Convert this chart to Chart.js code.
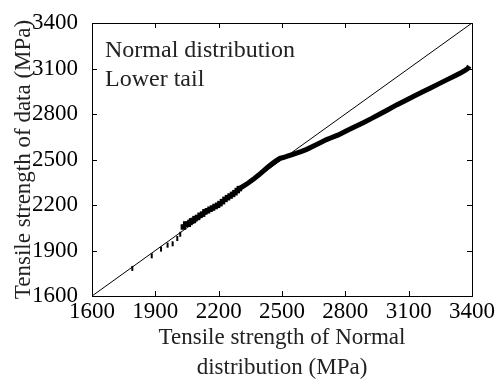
<!DOCTYPE html>
<html>
<head>
<meta charset="utf-8">
<script src="https://cdn.jsdelivr.net/npm/chart.js@4"></script>
<style>
html,body{margin:0;padding:0;background:#fff}
#wrap{width:500px;height:383px}
</style>
</head>
<body>
<div id="wrap"><canvas id="qqchart"></canvas></div>
<script>
// tick values shared by both axes
var axisTicks = [1600,1900,2200,2500,2800,3100,3400];
var refLine = [1600,3400];

// sparse lower-tail points
var tailX = [1791,1883,1927,1958,1982,2004,2018];
var tailY = [1782,1865,1909,1935,1944,1979,2007];

// middle part (thin)
var midX = [2033,2044,2056,2064,2072,2080,2088,2100,2112,2124,2135,2147,2159,2171,2183,2195,2206,2218,2230,2242,2254,2266,2277,2288,2298];
var midY = [2055,2075,2073,2085,2095,2098,2110,2118,2132,2140,2155,2162,2172,2180,2190,2198,2209,2222,2237,2248,2259,2270,2281,2295,2308];

// upper part (dense, thick)
var upperX = [2298,2317,2340,2364,2388,2411,2435,2459,2475,2490,2506,2522,2545,2569,2593,2617,2640,2664,2688,2711,2727,2767,2806,2845,2885,2925,2964,3004,3043,3083,3122,3162,3201,3240,3280,3320,3343,3367,3380,3387];
var upperY = [2308,2325,2345,2369,2396,2424,2452,2478,2495,2508,2513,2520,2531,2542,2554,2567,2583,2599,2615,2631,2640,2662,2690,2716,2743,2771,2800,2830,2860,2888,2916,2943,2970,2997,3025,3052,3068,3088,3100,3115];

function pts(xs, ys){
    var out = [];
    for (var i = 0; i < xs.length; i++) out.push({x: xs[i], y: ys[i]});
    return out;
}

var framePlugin = {
    id: 'frame',
    afterDraw: function(chart){
        var ctx = chart.ctx, a = chart.chartArea;
        var xs = chart.scales.x, ys = chart.scales.y;
        ctx.save();
        ctx.strokeStyle = '#000';
        ctx.lineWidth = 1;
        ctx.strokeRect(a.left + 0.5, a.top + 0.5, a.right - a.left, a.bottom - a.top);
        ctx.beginPath();
        axisTicks.forEach(function(v){
            var px = Math.round(xs.getPixelForValue(v)) + 0.5;
            ctx.moveTo(px, a.bottom); ctx.lineTo(px, a.bottom - 5);
            ctx.moveTo(px, a.top); ctx.lineTo(px, a.top + 5);
            var py = Math.round(ys.getPixelForValue(v)) + 0.5;
            ctx.moveTo(a.left, py); ctx.lineTo(a.left + 5, py);
            ctx.moveTo(a.right, py); ctx.lineTo(a.right - 5, py);
        });
        ctx.stroke();
        ctx.fillStyle = '#222';
        ctx.font = '24px "Liberation Serif"';
        ctx.textBaseline = 'middle';
        ctx.fillText('Normal distribution', a.left + 13, a.top + 28);
        ctx.fillText('Lower tail', a.left + 13, a.top + 57);
        ctx.restore();
    }
};

var tickFont = {family: '"Liberation Serif"', size: 23};
var titleFont = {family: '"Liberation Serif"', size: 23, lineHeight: 1.3};
function plainLabel(v){ return String(v); }

var options = {};
options.type = 'scatter';
options.data = {
    datasets: [
        {
            label: 'reference',
            data: pts(refLine, refLine),
            showLine: true,
            borderColor: '#000',
            borderWidth: 1,
            pointRadius: 0
        },
        {
            label: 'tail',
            data: pts(tailX, tailY),
            pointStyle: 'line',
            rotation: 90,
            pointRadius: 2.5,
            borderColor: '#000',
            borderWidth: 2
        },
        {
            label: 'mid',
            data: pts(midX, midY),
            showLine: true,
            borderColor: '#000',
            backgroundColor: '#000',
            borderWidth: 3,
            pointStyle: 'rect',
            pointRadius: 1.8
        },
        {
            label: 'upper',
            data: pts(upperX, upperY),
            showLine: true,
            borderColor: '#000',
            backgroundColor: '#000',
            borderWidth: 5,
            pointRadius: 0
        }
    ]
};
options.options = {
    responsive: true,
    maintainAspectRatio: false,
    animation: false,
    layout: {padding: {top: 23, right: 28, left: 0, bottom: 0}},
    plugins: {legend: {display: false}, tooltip: {enabled: false}},
    scales: {
        x: {
            type: 'linear', min: 1600, max: 3400,
            afterBuildTicks: function(s){ s.ticks = axisTicks.map(function(v){ return {value: v}; }); },
            afterFit: function(s){ s.height = 87; },
            grid: {display: false},
            border: {display: false},
            ticks: {color: '#000', font: tickFont, padding: -6, maxRotation: 0, callback: plainLabel},
            title: {
                display: true,
                text: ['Tensile strength of Normal', 'distribution (MPa)'],
                color: '#222', font: titleFont, padding: {top: 0, bottom: 0}
            }
        },
        y: {
            type: 'linear', min: 1600, max: 3400,
            afterBuildTicks: function(s){ s.ticks = axisTicks.map(function(v){ return {value: v}; }); },
            afterFit: function(s){ s.width = 92; },
            grid: {display: false},
            border: {display: false},
            ticks: {color: '#000', font: tickFont, padding: 6, callback: plainLabel},
            title: {
                display: true,
                text: 'Tensile strength of data (MPa)',
                color: '#222', font: {family: '"Liberation Serif"', size: 23, lineHeight: 1.2},
                padding: {top: 10, bottom: 0}
            }
        }
    }
};
options.plugins = [framePlugin];
new Chart(document.getElementById('qqchart'), options);
</script>
</body>
</html>
